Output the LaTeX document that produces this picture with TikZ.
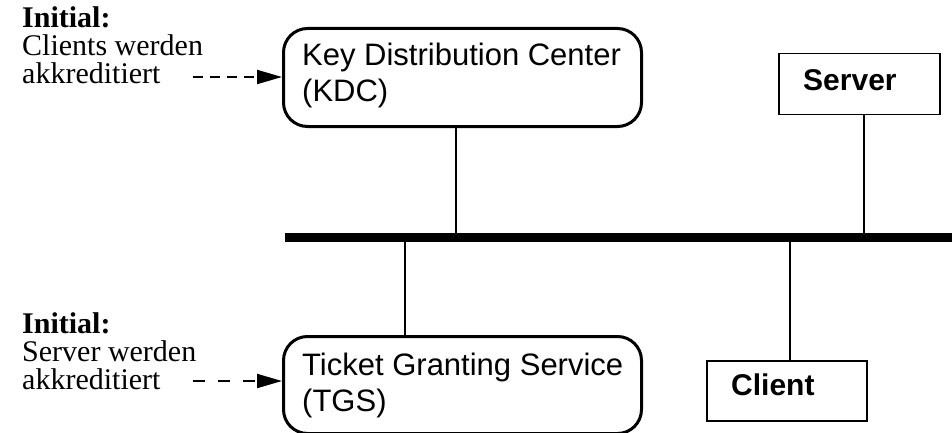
\documentclass[tikz,border=0pt]{standalone}
\usepackage{fontspec}
\setmainfont{Liberation Serif}
\setsansfont{Liberation Sans}
\usetikzlibrary{arrows.meta}
\begin{document}
\begin{tikzpicture}[x=1pt,y=-1pt,
  roundbox/.style={draw, line width=3pt, rounded corners=24pt, inner sep=0pt, anchor=north west},
  plainbox/.style={draw, line width=1.5pt, inner sep=0pt, anchor=north west},
  boxtext/.style={font=\sffamily\fontsize{31}{36}\selectfont, align=left, inner sep=0pt, anchor=north west},
  lbltext/.style={font=\sffamily\bfseries\fontsize{30}{34}\selectfont, inner sep=0pt, anchor=base west},
  sidetext/.style={font=\fontsize{30}{28}\selectfont, align=left, inner sep=0pt, anchor=north west},
  link/.style={line width=1.2pt},
  bus/.style={line width=9pt},
  initarrow/.style={line width=2pt, -{Triangle[length=25pt,width=14pt]}}
]
\useasboundingbox (0,0) rectangle (952,433);

% boxes
\node[roundbox, minimum width=358pt, minimum height=98pt] (kdc) at (282,27) {};
\node[roundbox, minimum width=358pt, minimum height=97pt] (tgs) at (282,335) {};
\node[plainbox, minimum width=161pt, minimum height=61pt] (server) at (778,53) {};
\node[plainbox, minimum width=160pt, minimum height=60pt] (client) at (706,360) {};

% texts in boxes
\node[boxtext] (kdctext) at (302,43) {Key Distribution Center\\(KDC)};
\node[boxtext] (tgstext) at (302,353) {Ticket Granting Service\\(TGS)};
\node[lbltext] (servertext) at (803,91) {Server};
\node[lbltext] (clienttext) at (731,395) {Client};

% side texts
\node[sidetext] (init1) at (22,6) {\textbf{Initial:}\\Clients werden\\akkreditiert};
\node[sidetext] (init2) at (22,312) {\textbf{Initial:}\\Server werden\\akkreditiert};

% bus
\coordinate (busL) at (285,237);
\coordinate (busR) at (952,237);
\draw[bus] (busL) -- (busR);

% joins
\coordinate (kdcj) at (456,237);
\coordinate (serverj) at (864,237);
\coordinate (tgsj) at (405,237);
\coordinate (clientj) at (790,237);
\draw[link] (kdcj |- kdc.south) -- (kdcj);
\draw[link] (serverj |- server.south) -- (serverj);
\draw[link] (tgsj) -- (tgsj |- tgs.north);
\draw[link] (clientj) -- (clientj |- client.north);

% initial arrows
\coordinate (a1) at (193,77);
\coordinate (a2) at (193,381);
\draw[initarrow, dash pattern=on 10pt off 7pt] (a1) -- (a1 -| kdc.west);
\draw[initarrow, dash pattern=on 12pt off 13pt] (a2) -- (a2 -| tgs.west);
\end{tikzpicture}
\end{document}
